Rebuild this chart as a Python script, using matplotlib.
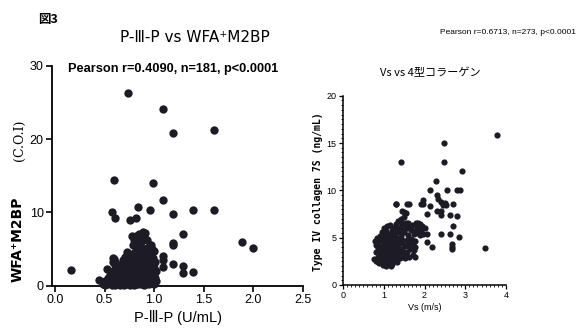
import numpy as np
import matplotlib
matplotlib.use("Agg")
import matplotlib.pyplot as plt
from matplotlib.ticker import MultipleLocator

# left panel: P-III-P vs WFA+M2BP
p3p_out = [0.74, 1.09, 1.19, 1.60, 0.59, 0.99, 1.09, 0.84, 0.96, 0.57, 0.60, 0.76, 0.82,
           1.19, 1.39, 1.60, 1.29, 1.19, 1.19, 1.89, 2.00, 1.09, 1.09, 1.09, 1.19, 1.29,
           1.29, 1.39, 0.16, 0.44, 0.52, 0.58, 0.58, 0.73, 0.97, 0.98]
wfa_out = [26.3, 24.1, 20.9, 21.3, 14.5, 14.0, 11.7, 10.8, 10.4, 10.0, 9.2, 9.0, 9.3,
           9.8, 10.4, 10.4, 7.0, 5.8, 5.5, 5.9, 5.1, 4.0, 3.5, 2.5, 3.0, 2.7,
           1.8, 1.9, 2.1, 0.8, 2.3, 3.8, 3.3, 4.6, 5.6, 4.9]
p3p_clu = [0.48, 0.50, 0.52, 0.53, 0.55, 0.55, 0.57, 0.58, 0.58, 0.60, 0.60, 0.60, 0.62,
           0.62, 0.63, 0.64, 0.65, 0.65, 0.66, 0.67, 0.68, 0.68, 0.69, 0.70, 0.70, 0.70,
           0.71, 0.72, 0.72, 0.73, 0.74, 0.74, 0.75, 0.75, 0.76, 0.76, 0.77, 0.77, 0.78,
           0.78, 0.79, 0.79, 0.80, 0.80, 0.80, 0.81, 0.81, 0.82, 0.82, 0.83, 0.83, 0.84,
           0.84, 0.85, 0.85, 0.86, 0.86, 0.87, 0.87, 0.88, 0.88, 0.89, 0.89, 0.90, 0.90,
           0.90, 0.91, 0.91, 0.92, 0.92, 0.93, 0.93, 0.94, 0.94, 0.95, 0.95, 0.96, 0.96,
           0.97, 0.97, 0.98, 0.98, 0.99, 0.99, 1.00, 1.00, 1.00, 1.00, 1.01, 1.01, 1.02,
           1.02, 0.59, 0.61, 0.63, 0.50, 0.60, 0.70, 0.80, 0.90, 0.78, 0.88, 0.91, 0.85,
           0.56, 0.66, 0.74, 0.83, 0.93, 1.00,
           0.57, 0.59, 0.61, 0.63, 0.64, 0.66, 0.67, 0.69, 0.69, 0.71, 0.71, 0.73, 0.73,
           0.75, 0.76, 0.77, 0.79, 0.79, 0.80, 0.81, 0.82, 0.83, 0.84, 0.85, 0.86, 0.86,
           0.87, 0.88, 0.89, 0.90, 0.90, 0.92, 0.92, 0.94, 0.95, 0.96, 0.97, 0.98, 0.99,
           1.00, 0.93, 0.87, 0.82]
wfa_clu = [0.3, 0.6, 0.2, 1.0, 0.5, 1.5, 0.1, 0.9, 2.0, 0.4, 1.3, 2.8, 3.0,
           0.2, 1.8, 2.5, 0.8, 1.5, 2.2, 0.3, 1.2, 2.0, 3.5, 0.6, 1.6, 2.6,
           3.9, 0.2, 1.0, 2.3, 3.0, 4.4, 0.5, 1.4, 2.0, 3.6, 0.9, 2.8, 4.0,
           0.2, 1.6, 5.5, 3.2, 6.3, 0.6, 2.4, 4.6, 1.2, 6.8, 3.8, 0.3, 2.0,
           5.2, 7.0, 1.0, 3.0, 4.3, 0.5, 6.0, 1.6, 2.6, 7.3, 3.6, 0.2, 5.0,
           6.8, 1.2, 2.2, 4.0, 3.0, 0.7, 6.2, 1.8, 4.6, 2.6, 0.3, 3.4, 5.6,
           1.0, 4.2, 2.0, 5.0, 0.5, 3.0, 1.5, 2.4, 0.2, 4.8, 1.0, 3.2, 0.6,
           2.0, 3.6, 3.2, 2.8, 0.1, 0.05, 0.1, 0.1, 0.1, 6.8, 6.9, 7.2, 6.3,
           0.8, 0.6, 0.9, 1.1, 1.4, 0.7,
           1.2, 0.6, 2.0, 0.5, 1.1, 0.1, 1.7, 0.8, 2.6, 1.2, 0.3, 1.7, 3.5,
           2.5, 0.1, 3.2, 0.4, 2.2, 1.0, 3.6, 0.2, 1.6, 2.8, 4.2, 0.3, 2.0,
           1.2, 3.4, 0.6, 2.6, 4.0, 1.6, 0.3, 2.8, 1.2, 0.4, 2.3, 1.4, 3.8,
           0.6, 5.2, 5.2, 5.7]

# right panel: Vs vs type IV collagen 7S
vs_out = [3.79, 2.48, 2.48, 1.42, 2.93, 2.28, 2.13, 2.54, 2.80, 2.87, 2.30, 2.34, 2.45,
          2.52, 2.70, 1.97, 1.97, 1.92, 1.29, 1.56, 1.50, 2.13, 2.07, 2.30, 2.41, 2.41,
          2.63, 2.80, 2.70, 2.07, 2.41, 2.62, 2.85, 2.07, 2.19, 2.68, 2.68, 2.68, 3.48,
          2.40, 2.50]
c7s_out = [15.9, 15.0, 13.0, 13.0, 12.0, 11.0, 10.0, 10.0, 10.0, 10.0, 9.5, 9.1, 8.5,
           8.5, 8.6, 9.0, 8.6, 8.6, 8.6, 8.6, 7.7, 8.3, 7.5, 7.8, 7.4, 7.8,
           7.4, 7.3, 6.2, 5.4, 5.4, 5.4, 5.1, 4.5, 4.0, 4.3, 4.0, 3.8, 3.9,
           8.8, 8.7]
vs_clu = [0.75, 0.78, 0.80, 0.80, 0.82, 0.83, 0.85, 0.85, 0.87, 0.88, 0.90, 0.90, 0.92,
          0.93, 0.95, 0.95, 0.97, 0.98, 1.00, 1.00, 1.00, 1.02, 1.03, 1.04, 1.05, 1.06,
          1.07, 1.08, 1.10, 1.10, 1.10, 1.12, 1.13, 1.14, 1.15, 1.16, 1.17, 1.18, 1.20,
          1.20, 1.21, 1.22, 1.24, 1.25, 1.26, 1.27, 1.28, 1.30, 1.30, 1.32, 1.33, 1.34,
          1.35, 1.36, 1.38, 1.40, 1.40, 1.42, 1.43, 1.44, 1.45, 1.46, 1.48, 1.50, 1.50,
          1.52, 1.53, 1.55, 1.56, 1.58, 1.60, 1.60, 1.62, 1.64, 1.66, 1.68, 1.70, 1.70,
          1.72, 1.74, 1.75, 1.77, 1.78, 1.80, 1.82, 1.84, 1.86, 1.88, 1.90, 1.92, 1.95,
          1.97, 2.00, 1.55, 1.62, 1.30, 1.45, 0.90, 1.00, 1.08, 1.15, 1.25, 0.96, 1.12,
          1.76, 1.77, 1.05, 1.18, 1.35,
          0.85, 0.88, 0.92, 0.95, 0.98, 1.02, 1.04, 1.06, 1.08, 1.10, 1.12, 1.14, 1.16,
          1.18, 1.20, 1.22, 1.24, 1.26, 1.28, 1.30, 1.32, 1.34, 1.36, 1.38, 1.40, 1.42,
          1.44, 1.46, 1.48, 1.52, 1.54, 1.56, 1.58, 1.62, 1.66, 1.68, 1.72, 1.85]
c7s_clu = [2.7, 4.6, 3.5, 4.2, 2.5, 5.0, 3.0, 3.9, 4.5, 2.3, 3.3, 5.2, 4.0,
           2.7, 4.8, 3.6, 2.1, 5.5, 3.0, 4.3, 6.0, 2.5, 3.8, 5.0, 4.5, 2.0,
           3.4, 6.2, 2.8, 4.0, 5.4, 2.2, 3.6, 4.8, 6.3, 3.0, 2.0, 4.3, 5.8,
           3.4, 2.5, 4.9, 3.9, 6.0, 2.8, 5.2, 4.4, 3.2, 6.4, 2.4, 5.6, 4.0,
           6.8, 3.5, 4.8, 2.9, 6.0, 5.2, 7.0, 3.8, 4.4, 6.5, 3.2, 5.6, 7.2,
           4.1, 2.8, 6.1, 4.8, 3.5, 5.3, 6.6, 3.0, 4.5, 5.8, 3.8, 4.8, 6.3,
           3.2, 5.4, 3.7, 4.6, 6.6, 5.8, 6.2, 5.5, 6.0, 5.3, 6.4, 5.8, 6.2,
           5.4, 6.0, 7.6, 8.6, 8.6, 7.8, 4.1, 3.6, 4.8, 3.9, 3.0, 4.9, 5.0,
           3.0, 4.0, 2.3, 2.6, 5.9,
           2.4, 3.6, 2.4, 5.6, 3.3, 4.8, 3.0, 5.7, 2.4, 3.4, 5.0, 2.6, 4.0,
           5.3, 2.2, 3.6, 5.6, 4.2, 3.0, 5.0, 3.8, 6.0, 4.4, 3.0, 5.6, 3.6,
           6.4, 4.8, 5.8, 3.4, 6.6, 4.2, 6.0, 4.0, 4.9, 6.2, 4.4, 6.5]

dot = '#1d1c26'
sans = ['Liberation Sans', 'DejaVu Sans', 'Noto Sans CJK JP']
jp = ['Noto Sans CJK JP', 'DejaVu Sans']

fig = plt.figure(figsize=(5.83, 3.31), dpi=100)

# ---- left panel
ax1 = fig.add_axes([52/583, 1-285.7/331, 251/583, 219.7/331])
ax1.scatter(p3p_out + p3p_clu, wfa_out + wfa_clu, s=36, color=dot, lw=0, clip_on=False, zorder=3)
ax1.set_xlim(-0.03, 2.5)
ax1.set_ylim(0, 30)
ax1.set_xticks([0.0, 0.5, 1.0, 1.5, 2.0, 2.5])
ax1.set_xticklabels(['0.0', '0.5', '1.0', '1.5', '2.0', '2.5'])
ax1.set_yticks([0, 10, 20, 30])
for s in ('top', 'right'):
    ax1.spines[s].set_visible(False)
for s in ('left', 'bottom'):
    ax1.spines[s].set_linewidth(1.3)
ax1.tick_params(direction='out', length=4, width=1.2, labelsize=9, pad=2)
for lab in ax1.get_xticklabels() + ax1.get_yticklabels():
    lab.set_family(sans)
ax1.set_xlabel('P-Ⅲ-P (U/mL)', family=sans, fontsize=10.5, labelpad=3)
ax1.text(0.065, 0.985, 'Pearson r=0.4090, n=181, p<0.0001', transform=ax1.transAxes,
         family=sans, fontsize=9.2, fontweight='bold', va='center', ha='left')

# ---- right panel
ax2 = fig.add_axes([343/583, 1-285/331, 163/583, 189.3/331])
ax2.scatter(vs_out + vs_clu, c7s_out + c7s_clu, s=20, color=dot, lw=0, clip_on=False, zorder=3)
ax2.set_xlim(0, 4)
ax2.set_ylim(0, 20)
ax2.set_xticks([0, 1, 2, 3, 4])
ax2.set_yticks([0, 5, 10, 15, 20])
ax2.xaxis.set_minor_locator(MultipleLocator(0.1))
ax2.yaxis.set_minor_locator(MultipleLocator(0.5))
for s in ('top', 'right'):
    ax2.spines[s].set_visible(False)
for s in ('left', 'bottom'):
    ax2.spines[s].set_linewidth(1.1)
ax2.tick_params(which='major', direction='out', length=3, width=0.9, labelsize=6.5, pad=1.5)
ax2.tick_params(which='minor', direction='out', length=1.3, width=0.6)
for lab in ax2.get_xticklabels() + ax2.get_yticklabels():
    lab.set_family(sans)
ax2.set_xlabel('Vs (m/s)', family=sans, fontsize=6.5, labelpad=2)

# ---- figure texts
fig.text(48/583, 1-20/331, '図3', family=jp, fontsize=9, fontweight='bold', ha='center', va='center')
fig.text(195/583, 1-38/331, 'P-Ⅲ-P vs WFA⁺M2BP', family=['DejaVu Sans', 'Noto Sans CJK JP'],
         fontsize=11, ha='center', va='center')
fig.text(576/583, 1-33/331, 'Pearson r=0.6713, n=273, p<0.0001', family=sans,
         fontsize=6, ha='right', va='center')
fig.text(430/583, 1-73/331, 'Vs vs 4型コラーゲン', family=jp, fontsize=8,
         ha='center', va='center')
fig.text(18/583, 1-239/331, 'WFA⁺M2BP', family=['DejaVu Sans'], fontsize=10,
         fontweight='bold', rotation=90, ha='center', va='center')
fig.text(19/583, 1-140/331, '(C.O.I)', family=['DejaVu Serif'], fontsize=9,
         rotation=90, ha='center', va='center')
fig.text(318/583, 1-192/331, 'Type IV collagen 7S (ng/mL)', family=['DejaVu Sans Mono'],
         fontsize=7, fontweight='bold', rotation=90, ha='center', va='center')

fig.savefig('out.png', dpi=100)
